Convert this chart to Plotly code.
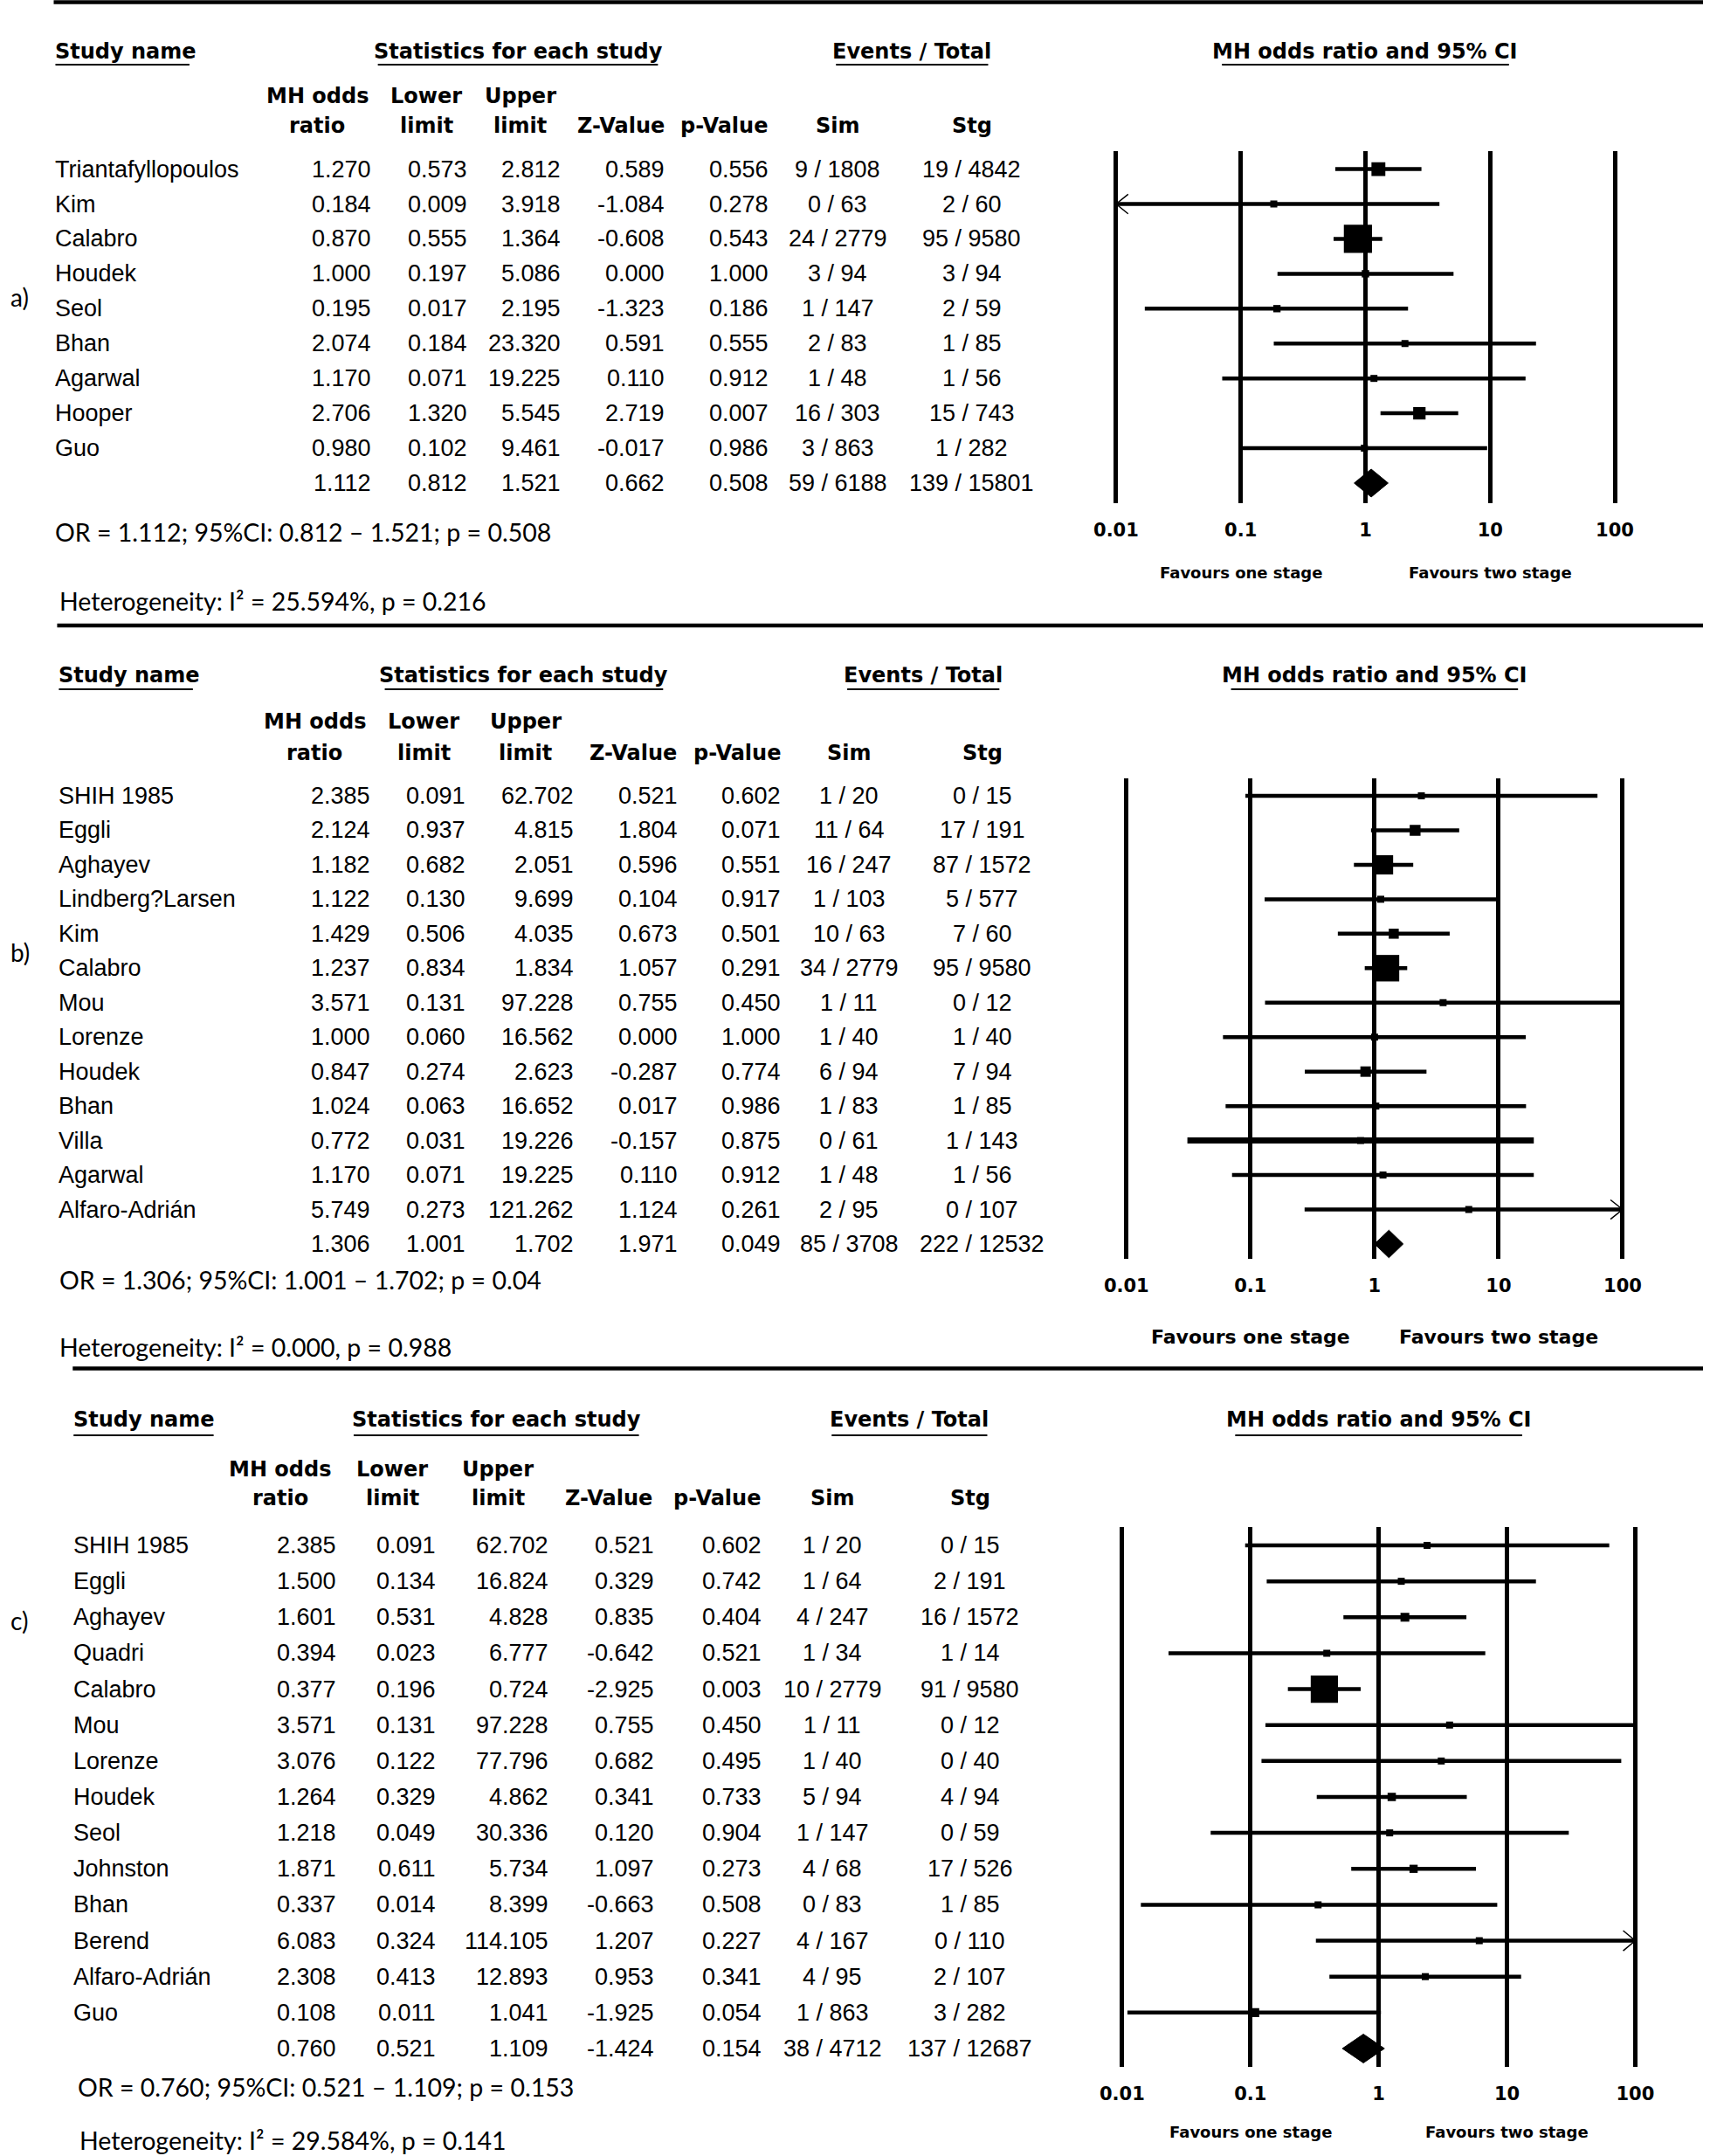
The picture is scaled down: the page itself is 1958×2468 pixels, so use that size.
import math
import plotly.graph_objects as go

W, H = 1958, 2468

# ---------------- data: panel a ----------------
A_STUDY = ["Triantafyllopoulos", "Kim", "Calabro", "Houdek", "Seol", "Bhan", "Agarwal", "Hooper", "Guo"]
A_OR = [1.270, 0.184, 0.870, 1.000, 0.195, 2.074, 1.170, 2.706, 0.980]
A_LOWER = [0.573, 0.009, 0.555, 0.197, 0.017, 0.184, 0.071, 1.320, 0.102]
A_UPPER = [2.812, 3.918, 1.364, 5.086, 2.195, 23.320, 19.225, 5.545, 9.461]
A_Z = [0.589, -1.084, -0.608, 0.000, -1.323, 0.591, 0.110, 2.719, -0.017]
A_P = [0.556, 0.278, 0.543, 1.000, 0.186, 0.555, 0.912, 0.007, 0.986]
A_SIM_EV = [9, 0, 24, 3, 1, 2, 1, 16, 3]
A_SIM_N = [1808, 63, 2779, 94, 147, 83, 48, 303, 863]
A_STG_EV = [19, 2, 95, 3, 2, 1, 1, 15, 1]
A_STG_N = [4842, 60, 9580, 94, 59, 85, 56, 743, 282]
A_POOLED = [1.112, 0.812, 1.521, 0.662, 0.508]
A_POOLED_EVENTS = [59, 6188, 139, 15801]

# ---------------- data: panel b ----------------
B_STUDY = ["SHIH 1985", "Eggli", "Aghayev", "Lindberg?Larsen", "Kim", "Calabro", "Mou", "Lorenze",
           "Houdek", "Bhan", "Villa", "Agarwal", "Alfaro-Adrián"]
B_OR = [2.385, 2.124, 1.182, 1.122, 1.429, 1.237, 3.571, 1.000, 0.847, 1.024, 0.772, 1.170, 5.749]
B_LOWER = [0.091, 0.937, 0.682, 0.130, 0.506, 0.834, 0.131, 0.060, 0.274, 0.063, 0.031, 0.071, 0.273]
B_UPPER = [62.702, 4.815, 2.051, 9.699, 4.035, 1.834, 97.228, 16.562, 2.623, 16.652, 19.226, 19.225, 121.262]
B_Z = [0.521, 1.804, 0.596, 0.104, 0.673, 1.057, 0.755, 0.000, -0.287, 0.017, -0.157, 0.110, 1.124]
B_P = [0.602, 0.071, 0.551, 0.917, 0.501, 0.291, 0.450, 1.000, 0.774, 0.986, 0.875, 0.912, 0.261]
B_SIM_EV = [1, 11, 16, 1, 10, 34, 1, 1, 6, 1, 0, 1, 2]
B_SIM_N = [20, 64, 247, 103, 63, 2779, 11, 40, 94, 83, 61, 48, 95]
B_STG_EV = [0, 17, 87, 5, 7, 95, 0, 1, 7, 1, 1, 1, 0]
B_STG_N = [15, 191, 1572, 577, 60, 9580, 12, 40, 94, 85, 143, 56, 107]
B_POOLED = [1.306, 1.001, 1.702, 1.971, 0.049]
B_POOLED_EVENTS = [85, 3708, 222, 12532]

# ---------------- data: panel c ----------------
C_STUDY = ["SHIH 1985", "Eggli", "Aghayev", "Quadri", "Calabro", "Mou", "Lorenze", "Houdek", "Seol",
           "Johnston", "Bhan", "Berend", "Alfaro-Adrián", "Guo"]
C_OR = [2.385, 1.500, 1.601, 0.394, 0.377, 3.571, 3.076, 1.264, 1.218, 1.871, 0.337, 6.083, 2.308, 0.108]
C_LOWER = [0.091, 0.134, 0.531, 0.023, 0.196, 0.131, 0.122, 0.329, 0.049, 0.611, 0.014, 0.324, 0.413, 0.011]
C_UPPER = [62.702, 16.824, 4.828, 6.777, 0.724, 97.228, 77.796, 4.862, 30.336, 5.734, 8.399, 114.105, 12.893, 1.041]
C_Z = [0.521, 0.329, 0.835, -0.642, -2.925, 0.755, 0.682, 0.341, 0.120, 1.097, -0.663, 1.207, 0.953, -1.925]
C_P = [0.602, 0.742, 0.404, 0.521, 0.003, 0.450, 0.495, 0.733, 0.904, 0.273, 0.508, 0.227, 0.341, 0.054]
C_SIM_EV = [1, 1, 4, 1, 10, 1, 1, 5, 1, 4, 0, 4, 4, 1]
C_SIM_N = [20, 64, 247, 34, 2779, 11, 40, 94, 147, 68, 83, 167, 95, 863]
C_STG_EV = [0, 2, 16, 1, 91, 0, 0, 4, 0, 17, 1, 0, 2, 3]
C_STG_N = [15, 191, 1572, 14, 9580, 12, 40, 94, 59, 526, 85, 110, 107, 282]
C_POOLED = [0.760, 0.521, 1.109, -1.424, 0.154]
C_POOLED_EVENTS = [38, 4712, 137, 12687]

# pooled-result notes
NOTE_P = ["0.508", "0.04", "0.153"]
HET_I2 = ["25.594%", "0.000", "29.584%"]
HET_P = ["0.216", "0.988", "0.141"]

TICK_VALUES = [0.01, 0.1, 1, 10, 100]
TICK_TEXT = ["0.01", "0.1", "1", "10", "100"]
AXIS_MIN, AXIS_MAX = 0.01, 100

BODY_FONT = "Liberation Sans, Arial, sans-serif"
HEAD_FONT = "DejaVu Sans, Verdana, sans-serif"
NOTE_FONT = "Lato, Carlito, Calibri, sans-serif"


def fx(px):
    return px / W


def fy(py):
    return 1 - py / H


panels = [
    dict(label="a)", names=A_STUDY, orv=A_OR, lo=A_LOWER, hi=A_UPPER, z=A_Z, p=A_P,
         sim_ev=A_SIM_EV, sim_n=A_SIM_N, stg_ev=A_STG_EV, stg_n=A_STG_N,
         pooled=A_POOLED, pooled_ev=A_POOLED_EVENTS, thick=[],
         lab_y=340, head_y=59, sub_y=(110, 144), ul_y=74,
         study_ul=155, stat_c=587, stat_hw=162, ev_c=1043, ev_hw=88,
         sub_c=(355, 481, 590, 706, 825, 957, 1112),
         cols=(52, 417, 528, 636, 757, 877, 957, 1112),
         x01=1279, dec=144.25, top=173, bot=576, row0=193.6, rowh=39.93,
         note_x=52, note_y=609, het_x=57, het_y=688, fav_y=655, fav_size=18, K=7.0),
    dict(label="b)", names=B_STUDY, orv=B_OR, lo=B_LOWER, hi=B_UPPER, z=B_Z, p=B_P,
         sim_ev=B_SIM_EV, sim_n=B_SIM_N, stg_ev=B_STG_EV, stg_n=B_STG_N,
         pooled=B_POOLED, pooled_ev=B_POOLED_EVENTS, thick=["Villa"],
         lab_y=1090, head_y=773, sub_y=(826, 862), ul_y=789,
         study_ul=155, stat_c=594, stat_hw=161, ev_c=1056, ev_hw=88,
         sub_c=(352, 478, 596, 720, 841, 970, 1124),
         cols=(56, 416, 526, 652, 772, 891, 970, 1124),
         x01=1291, dec=143.5, top=891, bot=1441, row0=911, rowh=39.46,
         note_x=57, note_y=1465, het_x=57, het_y=1542, fav_y=1530, fav_size=22, K=6.6),
    dict(label="c)", names=C_STUDY, orv=C_OR, lo=C_LOWER, hi=C_UPPER, z=C_Z, p=C_P,
         sim_ev=C_SIM_EV, sim_n=C_SIM_N, stg_ev=C_STG_EV, stg_n=C_STG_N,
         pooled=C_POOLED, pooled_ev=C_POOLED_EVENTS, thick=[],
         lab_y=1855, head_y=1625, sub_y=(1682, 1715), ul_y=1643,
         study_ul=162, stat_c=562, stat_hw=165, ev_c=1040, ev_hw=90,
         sub_c=(312, 442, 564, 692, 817, 951, 1110),
         cols=(73, 377, 492, 622, 745, 869, 951, 1110),
         x01=1286, dec=148.4, top=1748, bot=2366, row0=1769, rowh=41.14,
         note_x=78, note_y=2389, het_x=80, het_y=2450, fav_y=2440, fav_size=18, K=6.9),
]

RULES = [(50, 2.5), (54, 716), (72, 1566.5)]

fig = go.Figure()
annotations = []
shapes = []
layout_axes = {}


def ann(text, x, y, xref="paper", yref="paper", xanchor="center", size=27, family=BODY_FONT,
        weight="normal", yanchor="middle"):
    annotations.append(dict(text=text, x=x, y=y, xref=xref, yref=yref, xanchor=xanchor,
                            yanchor=yanchor, showarrow=False, borderpad=0, borderwidth=0,
                            font=dict(family=family, size=size, color="black", weight=weight)))


def hline(x0, x1, y, width, color="black"):
    shapes.append(dict(type="line", xref="paper", yref="paper", x0=fx(x0), x1=fx(x1),
                       y0=fy(y), y1=fy(y), line=dict(color=color, width=width)))


def mh_weight(a, n1, c, n2):
    b = n1 - a
    d = n2 - c
    if min(a, b, c, d) == 0:
        a, b, c, d = a + 0.5, b + 0.5, c + 0.5, d + 0.5
    return b * c / (a + b + c + d)


for x0, y in RULES:
    hline(x0, W, y, 4.5)

for i, P in enumerate(panels):
    n = len(P["names"])
    xa = "xaxis" if i == 0 else f"xaxis{i + 1}"
    ya = "yaxis" if i == 0 else f"yaxis{i + 1}"
    xr = "x" if i == 0 else f"x{i + 1}"
    yr = "y" if i == 0 else f"y{i + 1}"
    left_px = P["x01"] - 0.1 * P["dec"]
    right_px = left_px + 4.2 * P["dec"]
    r_top = (P["top"] - P["row0"]) / P["rowh"]
    r_bot = (P["bot"] - P["row0"]) / P["rowh"]
    layout_axes[xa] = dict(type="log", range=[-2.1, 2.1], domain=[fx(left_px), fx(right_px)],
                           anchor=yr, tickvals=TICK_VALUES, ticktext=TICK_TEXT,
                           showgrid=True, gridcolor="black", gridwidth=4.5, zeroline=False,
                           showline=False, ticks="outside", ticklen=12, tickcolor="rgba(0,0,0,0)",
                           tickfont=dict(family=HEAD_FONT, size=21, color="black", weight="bold"),
                           fixedrange=True)
    layout_axes[ya] = dict(domain=[fy(P["bot"]), fy(P["top"])], range=[r_bot, r_top],
                           visible=False, anchor=xr, fixedrange=True)

    # confidence-interval lines (clipped to the axis bounds)
    lx, ly, tx, ty, arx, ary = [], [], [], [], [], []
    arm_dec = 14.0 / P["dec"]
    for r in range(n):
        lo = max(P["lo"][r], AXIS_MIN)
        hi = min(P["hi"][r], AXIS_MAX)
        if P["names"][r] in P["thick"]:
            tx += [lo, hi, None]
            ty += [r, r, None]
        else:
            lx += [lo, hi, None]
            ly += [r, r, None]
        if P["lo"][r] < AXIS_MIN:
            arx += [AXIS_MIN * 10 ** arm_dec, AXIS_MIN, AXIS_MIN * 10 ** arm_dec, None]
            ary += [r - 0.28, r, r + 0.28, None]
        if P["hi"][r] > AXIS_MAX:
            arx += [AXIS_MAX / 10 ** arm_dec, AXIS_MAX, AXIS_MAX / 10 ** arm_dec, None]
            ary += [r - 0.28, r, r + 0.28, None]
    fig.add_trace(go.Scatter(x=lx, y=ly, mode="lines", line=dict(color="black", width=4.5),
                             xaxis=xr, yaxis=yr, hoverinfo="skip", showlegend=False))
    if tx:
        fig.add_trace(go.Scatter(x=tx, y=ty, mode="lines", line=dict(color="black", width=7),
                                 xaxis=xr, yaxis=yr, hoverinfo="skip", showlegend=False))
    if arx:
        fig.add_trace(go.Scatter(x=arx, y=ary, mode="lines", line=dict(color="black", width=1.5),
                                 xaxis=xr, yaxis=yr, hoverinfo="skip", showlegend=False))

    # study squares sized by Mantel-Haenszel weight
    sizes = []
    for r in range(n):
        w = mh_weight(P["sim_ev"][r], P["sim_n"][r], P["stg_ev"][r], P["stg_n"][r])
        sizes.append(max(8.0, P["K"] * math.sqrt(w)))
    fig.add_trace(go.Scatter(x=P["orv"], y=list(range(n)), mode="markers",
                             marker=dict(symbol="square", size=sizes, color="black", opacity=1,
                                         line=dict(width=0)),
                             xaxis=xr, yaxis=yr, hoverinfo="skip", showlegend=False))

    # pooled diamond
    est, plo, phi = P["pooled"][0], P["pooled"][1], P["pooled"][2]
    fig.add_trace(go.Scatter(x=[plo, est, phi, est, plo], y=[n, n - 0.4, n, n + 0.4, n],
                             mode="lines", fill="toself", fillcolor="black",
                             line=dict(color="black", width=1), xaxis=xr, yaxis=yr,
                             hoverinfo="skip", showlegend=False))

    # ---- headers ----
    one_px = P["x01"] + 2 * P["dec"]
    c = P["cols"]
    ann("Study name", fx(c[0]), fy(P["head_y"]), xanchor="left", size=24, family=HEAD_FONT, weight="bold")
    ann("Statistics for each study", fx(P["stat_c"]), fy(P["head_y"]), size=24, family=HEAD_FONT, weight="bold")
    ann("Events / Total", fx(P["ev_c"]), fy(P["head_y"]), size=24, family=HEAD_FONT, weight="bold")
    ann("MH odds ratio and 95% CI", fx(one_px), fy(P["head_y"]), size=24, family=HEAD_FONT, weight="bold")
    hline(c[0], c[0] + P["study_ul"], P["ul_y"], 2)
    hline(P["stat_c"] - P["stat_hw"], P["stat_c"] + P["stat_hw"], P["ul_y"], 2)
    hline(P["ev_c"] - P["ev_hw"], P["ev_c"] + P["ev_hw"], P["ul_y"], 2)
    hline(one_px - 166, one_px + 166, P["ul_y"], 2)

    s = P["sub_c"]
    y1, y2 = P["sub_y"]
    for txt, cx, yy in [("MH odds", s[0], y1), ("ratio", s[0], y2), ("Lower", s[1], y1), ("limit", s[1], y2),
                        ("Upper", s[2], y1), ("limit", s[2], y2), ("Z-Value", s[3], y2),
                        ("p-Value", s[4], y2), ("Sim", s[5], y2), ("Stg", s[6], y2)]:
        ann(txt, fx(cx), fy(yy), size=24, family=HEAD_FONT, weight="bold")

    # ---- table rows ----
    for r in range(n):
        ann(P["names"][r], fx(c[0]), r, yref=yr, xanchor="left")
        for val, cx in [(P["orv"][r], c[1]), (P["lo"][r], c[2]), (P["hi"][r], c[3]),
                        (P["z"][r], c[4]), (P["p"][r], c[5])]:
            ann(f"{val:.3f}", fx(cx), r, yref=yr, xanchor="right")
        ann(f"{P['sim_ev'][r]} / {P['sim_n'][r]}", fx(c[6]), r, yref=yr)
        ann(f"{P['stg_ev'][r]} / {P['stg_n'][r]}", fx(c[7]), r, yref=yr)
    for val, cx in zip(P["pooled"], c[1:6]):
        ann(f"{val:.3f}", fx(cx), n, yref=yr, xanchor="right")
    pe = P["pooled_ev"]
    ann(f"{pe[0]} / {pe[1]}", fx(c[6]), n, yref=yr)
    ann(f"{pe[2]} / {pe[3]}", fx(c[7]), n, yref=yr)

    # ---- notes ----
    ann(f"OR = {est:.3f}; 95%CI: {plo:.3f} – {phi:.3f}; p = {NOTE_P[i]}", fx(P["note_x"]), fy(P["note_y"]),
        xanchor="left", size=28.5, family=NOTE_FONT)
    ann(f"Heterogeneity: I² = {HET_I2[i]}, p = {HET_P[i]}", fx(P["het_x"]), fy(P["het_y"]),
        xanchor="left", size=28.5, family=NOTE_FONT)
    ann(P["label"], 0, fy(P["lab_y"]), xanchor="left", size=28, family=NOTE_FONT)

    # favours labels under 0.1 and 10
    ann("Favours one stage", -1, fy(P["fav_y"]), xref=xr, size=P["fav_size"], family=HEAD_FONT, weight="bold")
    ann("Favours two stage", 1, fy(P["fav_y"]), xref=xr, size=P["fav_size"], family=HEAD_FONT, weight="bold")

fig.update_layout(width=W, height=H, margin=dict(l=0, r=0, t=0, b=0), autosize=False,
                  paper_bgcolor="white", plot_bgcolor="white", showlegend=False,
                  annotations=annotations, shapes=shapes, **layout_axes)

fig.write_html("out.html", config={"displayModeBar": False},
               post_script="document.body.style.margin='0';document.body.style.overflow='hidden';")
